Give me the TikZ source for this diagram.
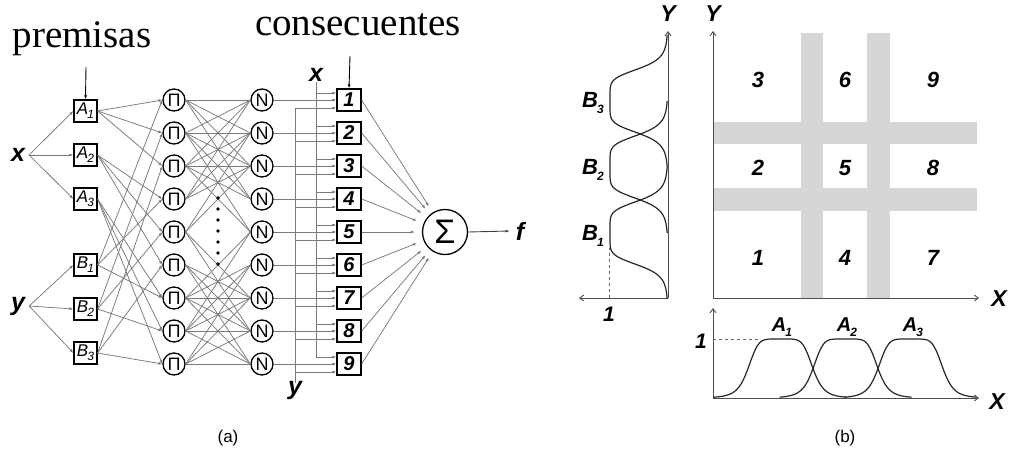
\documentclass[tikz,border=0pt]{standalone}
\usepackage{fontspec}
\setmainfont{Liberation Sans}
\newfontfamily\serifface{Liberation Serif}
\usetikzlibrary{arrows.meta,calc}

\tikzset{
  fs/.style={font=\fontsize{#1}{#1}\selectfont},
  var/.style={font=\fontsize{#1}{#1}\selectfont\bfseries\itshape, inner sep=0pt},
  mbox/.style={draw, line width=1.3pt, minimum width=23pt, minimum height=22pt, inner sep=0pt,
    font=\fontsize{17}{17}\selectfont\itshape},
  cbox/.style={draw, line width=1.3pt, minimum width=24pt, minimum height=22pt, inner sep=0pt,
    font=\fontsize{20}{20}\selectfont\bfseries\itshape},
  neuron/.style={draw, circle, line width=1.3pt, minimum size=22pt, inner sep=0pt,
    font=\fontsize{18}{18}\selectfont},
  wire/.style={draw=black!52, line width=0.75pt},
  arr/.style={-{Latex[length=4pt,width=3pt]}},
  axisline/.style={draw=black!70, line width=0.9pt, -{Straight Barb[length=4pt,width=6pt]}},
  curve/.style={draw=black!85, line width=1.2pt},
  band/.style={fill=black!16, draw=none},
  declare function={bell(\t)=1/(1+(\t*\t/1056.25)^3);}
}

\newcommand{\sub}[2]{#1\kern-1pt\raisebox{-0.45ex}{\fontsize{12}{12}\selectfont #2}}

\begin{document}
\begin{tikzpicture}[x=1pt,y=-1pt]
\useasboundingbox (0,0) rectangle (1010,461);

% ---------------- (a) network ----------------
\node[font=\fontsize{39}{39}\selectfont\serifface] (prem) at (82,39) {premisas};
\node[font=\fontsize{39}{39}\selectfont\serifface] (cons) at (358,25) {consecuentes};

% premise boxes
\foreach \i/\y in {1/111,2/155,3/199} \node[mbox] (A\i) at (85.5,\y) {\sub{A}{\i}};
\foreach \i/\y in {1/265,2/309,3/353} \node[mbox] (B\i) at (85.5,\y) {\sub{B}{\i}};

\coordinate (pa) at (86,67);
\draw[arr, line width=0.9pt] (pa) -- (A1.north);

\node[var=25] (xin) at (18,155) {x};
\node[var=25] (yin) at (18,306) {y};
\foreach \i in {1,2,3} {
  \draw[wire, arr] ($(xin.east)+(4,0)$) -- (A\i.west);
  \draw[wire, arr] ($(yin.east)+(4,0)$) -- (B\i.west);
}

% product and normalisation layers
\foreach \k in {1,...,9} {
  \pgfmathsetmacro\yy{100+33*(\k-1)}
  \node[neuron] (P\k) at (174,\yy) {Π};
  \node[neuron] (N\k) at (262,\yy) {N};
  \node[cbox] (C\k) at (349,\yy) {\k};
}

% premises to rules
\foreach \i in {1,2,3} {
  \foreach \j in {1,2,3} {
    \pgfmathtruncatemacro\ra{3*(\i-1)+\j}
    \pgfmathtruncatemacro\rb{\i+3*(\j-1)}
    \draw[wire, arr] (A\i.east) -- (P\ra.west);
    \draw[wire, arr] (B\i.east) -- (P\rb.west);
  }
}

% rules to normalisation
\foreach \i in {1,...,9} {
  \foreach \j in {1,...,9} {
    \pgfmathtruncatemacro\ok{(abs(\i-\j)<4)&&((\i+\j<9)||(\i+\j>11))&&(\i*10+\j!=44)&&(\i*10+\j!=66)}
    \ifnum\ok=1 \draw[wire] (P\i.east) -- (N\j.west); \fi
  }
}
\foreach \d in {0,...,6} \fill (218,198+11*\d) circle (1.8);

% input lines x and y to consequents
\coordinate (xtop) at (316,82);
\coordinate (xbot) at (316,357);
\coordinate (ytop) at (295,108);
\coordinate (ybot) at (295,383);
\draw[wire] (xtop) -- (xbot);
\draw[wire] (ytop) -- (ybot);
\node[var=25, anchor=south] (xlab) at (316,82) {x};
\node[var=25, anchor=north] (ylab) at (295,381) {y};

\foreach \k in {1,...,9} {
  \pgfmathsetmacro\yy{100+33*(\k-1)}
  \coordinate (xi\k) at (316,\yy-7);
  \coordinate (yi\k) at (295,\yy+8);
  \draw[wire, arr] (xi\k) -- (xi\k -| C\k.west);
  \draw[wire, arr] (yi\k) -- (yi\k -| C\k.west);
  \draw[wire, arr] (N\k.east) -- (C\k.west);
}

\coordinate (pc) at (350,56);
\draw[arr, line width=0.9pt] (pc) -- (C1.north);

% summation
\node[draw, circle, line width=1.3pt, minimum size=45pt, inner sep=0pt,
      font=\fontsize{34}{34}\selectfont] (sig) at (445,232) {Σ};
\foreach \k in {1,...,9} \draw[wire, arr, shorten >=7pt] (C\k.east) -- (sig);
\node[var=25] (fout) at (520,231) {f};
\draw[arr, line width=0.9pt, draw=black!75] (sig.east) -- ($(fout.west)+(-6,0)$);

\node[fs=17] (capa) at (228,438) {(a)};

% ---------------- (b) partition ----------------
% grey transition bands
\fill[band] (801,33) rectangle (823,298);
\fill[band] (867,33) rectangle (890,298);
\fill[band] (714,122) rectangle (977,144);
\fill[band] (714,188) rectangle (977,211);

\coordinate (O2) at (713,298);
\coordinate (Y2) at (713,31);
\coordinate (X2) at (979,298);
\draw[axisline] (O2) -- (Y2);
\draw[axisline] (O2) -- (X2);
\node[var=23] (Y2l) at (713,14) {Y};
\node[var=23] (X2l) at (999,299) {X};

\foreach \n/\x/\y in {3/758/80,6/845/80,9/933/80,2/758/168,5/845/168,8/933/168,1/758/258,4/845/258,7/933/258}
  \node[var=22] (g\n) at (\x,\y) {\n};

% Y membership functions
\coordinate (O1) at (668,298);
\coordinate (Y1) at (668,31);
\coordinate (X1) at (579,298);
\draw[axisline] (O1) -- (Y1);
\draw[axisline] (O1) -- (X1);
\node[var=23] (Y1l) at (668,14) {Y};
\node[var=21] (one1) at (609,314) {1};
\draw[black!60, dashed, line width=0.8pt] (one1.north |- O1) -- (609,248);
\foreach \c in {233,167,101}
  \draw[curve] plot[domain=-66:66, samples=90, variable=\t, smooth] ({668-58*bell(\t)},{\c+\t});
\node[var=22] (Bl3) at (593,103) {\sub{B}{3}};
\node[var=22] (Bl2) at (593,170) {\sub{B}{2}};
\node[var=22] (Bl1) at (593,236) {\sub{B}{1}};

% X membership functions
\coordinate (O3) at (713,398);
\coordinate (Y3) at (713,308);
\coordinate (X3) at (979,398);
\draw[axisline] (O3) -- (Y3);
\draw[axisline] (O3) -- (X3);
\node[var=23] (X3l) at (997,402) {X};
\node[var=21] (one3) at (701,341) {1};
\draw[black!60, dashed, line width=0.8pt] (713,339) -- (760,339);
\draw[curve] plot[domain=-67:66, samples=90, variable=\t, smooth] ({780.5+\t},{398-59*bell(\t)});
\draw[curve] plot[domain=-66:66, samples=90, variable=\t, smooth] ({845.5+\t},{398-59*bell(\t)});
\draw[curve] plot[domain=-66:66, samples=90, variable=\t, smooth] ({910.5+\t},{398-59*bell(\t)});
\node[var=20] (Al1) at (782,327) {\sub{A}{1}};
\node[var=20] (Al2) at (847,327) {\sub{A}{2}};
\node[var=20] (Al3) at (913,327) {\sub{A}{3}};

\node[fs=17] (capb) at (845,438) {(b)};
\end{tikzpicture}
\end{document}
